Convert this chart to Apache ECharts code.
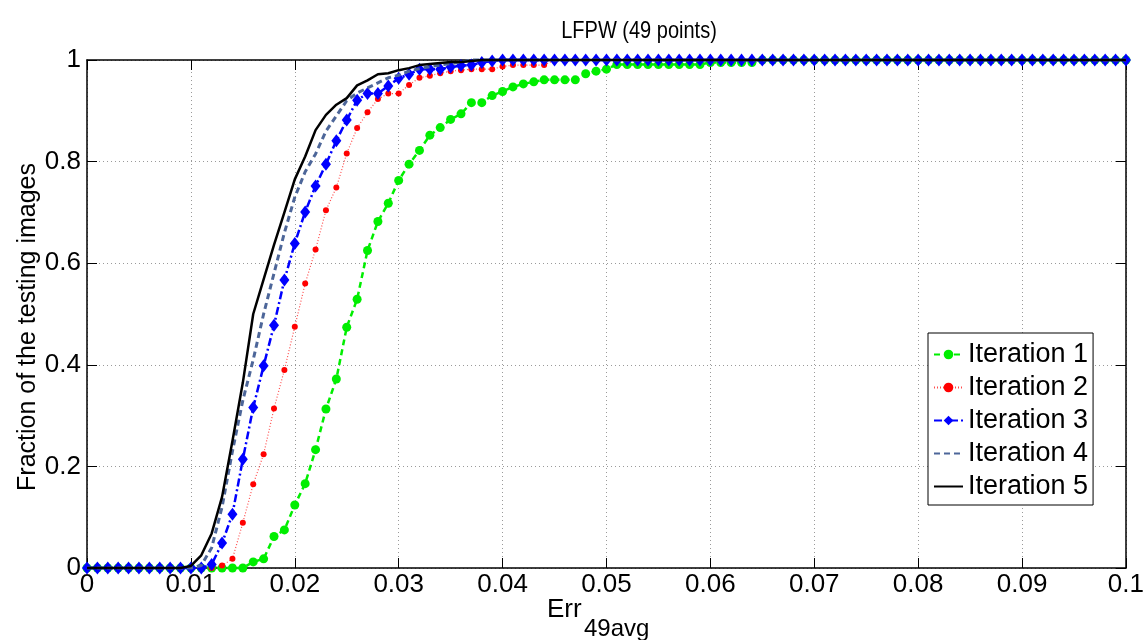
<!DOCTYPE html>
<html>
<head>
<meta charset="utf-8">
<script src="https://cdn.jsdelivr.net/npm/echarts@6/dist/echarts.min.js"></script>
<style>
html,body{margin:0;padding:0;background:#fff;}
#chart{width:1147px;height:640px;}
</style>
</head>
<body>
<div id="chart"></div>
<script>
// Sample positions of the error threshold (step 0.001 from 0 to 0.1)
const errStep = 0.001;
const xTickLabels = ['0','0.01','0.02','0.03','0.04','0.05','0.06','0.07','0.08','0.09','0.1'];
const yTickLabels = ['0','0.2','0.4','0.6','0.8','1'];
const seriesNames = ['Iteration 1','Iteration 2','Iteration 3','Iteration 4','Iteration 5'];

const iter1 = [
0,0,0,0,0,0,0,0,0,0,
0,0,0,0,0,0,0.012,0.018,0.062,0.075,
0.124,0.166,0.233,0.313,0.372,0.474,0.529,0.625,0.682,0.718,
0.763,0.795,0.822,0.852,0.867,0.883,0.894,0.916,0.916,0.930,
0.938,0.947,0.953,0.957,0.961,0.961,0.961,0.961,0.973,0.978,
0.982,0.991,0.991,0.991,0.991,0.991,0.991,0.991,0.991,0.991,
0.995,0.995,0.995,0.995,0.995,1,1,1,1,1,
1,1,1,1,1,1,1,1,1,1,
1,1,1,1,1,1,1,1,1,1,
1,1,1,1,1,1,1,1,1,1,
1];
const iter2 = [
0,0,0,0,0,0,0,0,0,0,
0,0,0,0.005,0.018,0.089,0.165,0.224,0.314,0.390,
0.475,0.560,0.627,0.704,0.749,0.816,0.866,0.897,0.923,0.934,
0.934,0.951,0.965,0.969,0.974,0.978,0.980,0.982,0.982,0.982,
0.987,0.990,0.990,0.990,0.990,1,1,1,1,1,
1,1,1,1,1,1,1,1,1,1,
1,1,1,1,1,1,1,1,1,1,
1,1,1,1,1,1,1,1,1,1,
1,1,1,1,1,1,1,1,1,1,
1,1,1,1,1,1,1,1,1,1,
1];
const iter3 = [
0,0,0,0,0,0,0,0,0,0,
0,0,0.007,0.049,0.106,0.214,0.316,0.398,0.478,0.567,
0.639,0.701,0.752,0.795,0.841,0.882,0.921,0.934,0.934,0.949,
0.964,0.972,0.982,0.982,0.982,0.986,0.989,0.990,0.995,0.998,
1,1,1,1,1,1,1,1,1,1,
1,1,1,1,1,1,1,1,1,1,
1,1,1,1,1,1,1,1,1,1,
1,1,1,1,1,1,1,1,1,1,
1,1,1,1,1,1,1,1,1,1,
1,1,1,1,1,1,1,1,1,1,
1];
const iter4 = [
0,0,0,0,0,0,0,0,0,0,
0,0.005,0.04,0.12,0.23,0.33,0.41,0.50,0.58,0.66,
0.73,0.78,0.815,0.86,0.89,0.92,0.935,0.945,0.955,0.965,
0.97,0.978,0.983,0.987,0.99,0.993,0.996,1,1,1,
1,1,1,1,1,1,1,1,1,1,
1,1,1,1,1,1,1,1,1,1,
1,1,1,1,1,1,1,1,1,1,
1,1,1,1,1,1,1,1,1,1,
1,1,1,1,1,1,1,1,1,1,
1,1,1,1,1,1,1,1,1,1,
1];
const iter5 = [
0,0,0,0,0,0,0,0,0,0,
0.004,0.025,0.068,0.14,0.25,0.365,0.50,0.568,0.636,0.70,
0.765,0.81,0.862,0.892,0.912,0.925,0.95,0.96,0.972,0.974,
0.98,0.984,0.99,0.992,0.994,0.996,0.996,0.998,1,1,
1,1,1,1,1,1,1,1,1,1,
1,1,1,1,1,1,1,1,1,1,
1,1,1,1,1,1,1,1,1,1,
1,1,1,1,1,1,1,1,1,1,
1,1,1,1,1,1,1,1,1,1,
1,1,1,1,1,1,1,1,1,1,
1];

const FONT = '"Liberation Sans", Arial, Helvetica, sans-serif';
const pairs = arr => arr.map((v, i) => [+(i * errStep).toFixed(3), v]);

const chart = echarts.init(document.getElementById('chart'), null, {renderer: 'canvas'});

const gridLine = {show: true, lineStyle: {color: '#9a9a9a', width: 1, type: [1, 3]}};
const axLine = {show: true, onZero: false, lineStyle: {color: '#000', width: 1.5}};
const tick = {show: true, inside: true, length: 10, lineStyle: {color: '#000', width: 1}};

const option = {
  animation: false,
  backgroundColor: '#fff',
  grid: {left: 87, right: 19, top: 60, bottom: 72, containLabel: false},
  xAxis: [{
    type: 'value', min: 0, max: 0.1, interval: 0.01,
    axisLine: axLine, axisTick: tick, splitLine: gridLine,
    axisLabel: {
      color: '#000', fontSize: 26, fontFamily: FONT, margin: 4,
      formatter: v => xTickLabels[Math.round(v / 0.01)]
    }
  }, {
    type: 'value', min: 0, max: 0.1, interval: 0.01, position: 'top',
    axisLine: axLine, axisTick: tick, splitLine: {show: false}, axisLabel: {show: false}
  }],
  yAxis: [{
    type: 'value', min: 0, max: 1, interval: 0.2,
    axisLine: axLine, axisTick: tick, splitLine: gridLine,
    axisLabel: {
      color: '#000', fontSize: 26, fontFamily: FONT, margin: 6,
      formatter: v => yTickLabels[Math.round(v / 0.2)]
    }
  }, {
    type: 'value', min: 0, max: 1, interval: 0.2, position: 'right',
    axisLine: axLine, axisTick: tick, splitLine: {show: false}, axisLabel: {show: false}
  }],
  legend: {
    orient: 'vertical', left: 928, top: 333,
    data: [
      {name: seriesNames[0]},
      {name: seriesNames[1]},
      {name: seriesNames[2]},
      {name: seriesNames[3], itemStyle: {opacity: 0}},
      {name: seriesNames[4], itemStyle: {opacity: 0}}
    ],
    backgroundColor: '#fff', borderColor: '#000', borderWidth: 1,
    padding: [8, 5, 5, 5], itemGap: 6, itemWidth: 29, itemHeight: 12,
    textStyle: {color: '#000', fontSize: 27, fontFamily: FONT, lineHeight: 27},
    z: 10
  },
  graphic: [
    {type: 'text', x: 639, y: 31, scaleY: 1.2, style: {text: 'LFPW (49 points)', font: '20px ' + FONT, fill: '#000', textAlign: 'center', textVerticalAlign: 'middle'}},
    {type: 'text', x: 28, y: 327, rotation: Math.PI / 2, style: {text: 'Fraction of the testing images', font: '25px ' + FONT, fill: '#000', textAlign: 'center', textVerticalAlign: 'middle'}},
    {type: 'text', x: 547, y: 610, style: {text: 'Err', font: '26px ' + FONT, fill: '#000', textAlign: 'left', textVerticalAlign: 'middle'}},
    {type: 'text', x: 584, y: 629, style: {text: '49avg', font: '24px ' + FONT, fill: '#000', textAlign: 'left', textVerticalAlign: 'middle'}}
  ],
  series: [
    {
      name: seriesNames[0], type: 'line', data: pairs(iter1), clip: false,
      showSymbol: true, showAllSymbol: true, symbol: 'circle', symbolSize: 9,
      itemStyle: {color: '#00ee00'},
      lineStyle: {color: '#00ee00', width: 2.5, type: [6, 4]}, z: 2
    },
    {
      name: seriesNames[1], type: 'line', data: pairs(iter2), clip: false,
      showSymbol: true, showAllSymbol: true, symbol: 'circle', symbolSize: 6,
      itemStyle: {color: '#ff0000'},
      lineStyle: {color: 'rgba(255,0,0,0.7)', width: 1.2, type: [1, 2]}, z: 3
    },
    {
      name: seriesNames[2], type: 'line', data: pairs(iter3), clip: false,
      showSymbol: true, showAllSymbol: true, symbol: 'diamond', symbolSize: [10, 13],
      itemStyle: {color: '#0000ff'},
      lineStyle: {color: '#0000ff', width: 2.5, type: [8, 3, 2, 3]}, z: 4
    },
    {
      name: seriesNames[3], type: 'line', data: pairs(iter4), clip: false,
      showSymbol: false, symbol: 'none',
      itemStyle: {color: '#4d6699'},
      lineStyle: {color: '#4d6699', width: 3, type: [6, 4]}, z: 5
    },
    {
      name: seriesNames[4], type: 'line', data: pairs(iter5), clip: false,
      showSymbol: false, symbol: 'none',
      itemStyle: {color: '#000'},
      lineStyle: {color: '#000', width: 2.5, type: 'solid'}, z: 6
    }
  ]
};
chart.setOption(option);
</script>
</body>
</html>
